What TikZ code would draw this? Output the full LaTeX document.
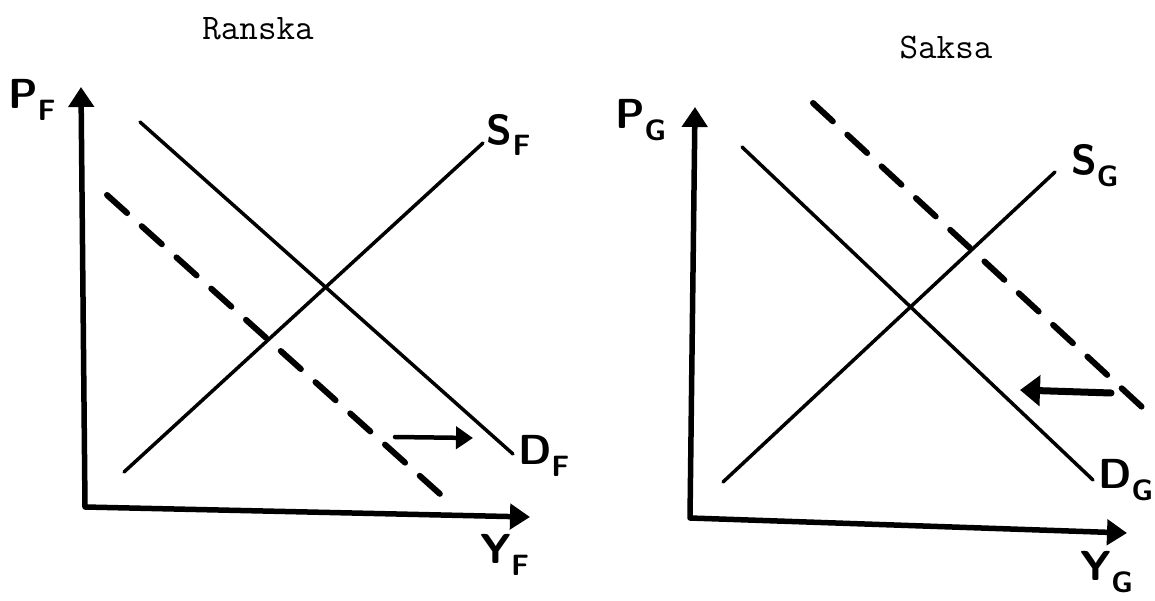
\documentclass[tikz,border=0pt]{standalone}
\usetikzlibrary{arrows.meta}
\begin{document}
\begin{tikzpicture}[x=1pt,y=-1pt,
  axis/.style={line width=5.5pt,line join=round,
    {Triangle[length=20pt,width=25pt]}-{Triangle[length=20pt,width=25pt]}},
  curve/.style={line width=3.5pt,line cap=round},
  shifted/.style={line width=6pt,line cap=round,dash pattern=on 27pt off 19.7pt},
  push/.style={line width=4.5pt,line cap=round,-{Triangle[length=17pt,width=22pt]}},
  sym/.style={font=\sffamily\bfseries\fontsize{42}{46}\selectfont,inner sep=0pt},
  title/.style={font=\ttfamily\fontsize{36}{40}\selectfont,inner sep=0pt}]
\useasboundingbox (0,0) rectangle (1155,601);

% Ranska
\node[title] (ranska) at (258,29) {Ranska};
\coordinate (pF) at (81,87);
\coordinate (oF) at (85,507);
\coordinate (yF) at (530,517);
\draw[axis] (pF) -- (oF) -- (yF);
\draw[curve] (124,472) coordinate (sF0) -- (483,143) coordinate (sF1);
\draw[curve] (140,122) coordinate (dF0) -- (513,454) coordinate (dF1);
\draw[shifted] (107,195) coordinate (dF2) -- (440,494) coordinate (dF3);
\coordinate (aF0) at (395,437);
\coordinate (aF1) at (473,438);
\draw[push] (aF0) -- (aF1);
\node[sym] (labpF) at (32,100) {P\textsubscript{F}};
\node[sym] (labsF) at (509,135) {S\textsubscript{F}};
\node[sym] (labdF) at (544,456) {D\textsubscript{F}};
\node[sym] (labyF) at (505,555) {Y\textsubscript{F}};

% Saksa
\node[title] (saksa) at (946,48) {Saksa};
\coordinate (pG) at (695,107);
\coordinate (oG) at (690,518);
\coordinate (yG) at (1127,533);
\draw[axis] (pG) -- (oG) -- (yG);
\draw[curve] (723,482) coordinate (sG0) -- (1055,172) coordinate (sG1);
\draw[curve] (742,147) coordinate (dG0) -- (1093,480) coordinate (dG1);
\draw[shifted] (813,103) coordinate (dG2) -- (1143,408) coordinate (dG3);
\coordinate (aG0) at (1111,393);
\coordinate (aG1) at (1020,390);
\draw[push,line width=7pt,-{Triangle[length=20pt,width=30pt]}] (aG0) -- (aG1);
\node[sym] (labpG) at (641,120) {P\textsubscript{G}};
\node[sym] (labsG) at (1095,166) {S\textsubscript{G}};
\node[sym] (labdG) at (1126,480) {D\textsubscript{G}};
\node[sym] (labyG) at (1107,572) {Y\textsubscript{G}};
\end{tikzpicture}
\end{document}
